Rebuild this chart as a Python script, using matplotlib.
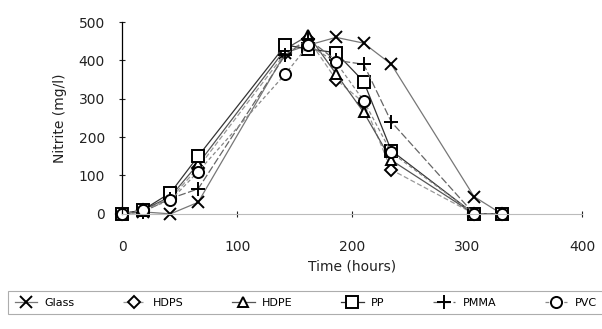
import numpy as np
import matplotlib.pyplot as plt

# sampling times (hours)
time = [0, 18, 42, 66, 142, 162, 186, 210, 234, 306, 330]

# nitrite (mg/l) per substrate
glass = [0, 5, 0, 30, 420, 440, 460, 445, 390, 45, 0]
hdps = [0, 10, 40, 120, 420, 455, 350, 290, 115, 0, 0]
hdpe = [0, 10, 45, 130, 430, 465, 365, 265, 140, 0, 0]
pp = [0, 10, 55, 150, 440, 430, 420, 345, 165, 0, 0]
pmma = [0, 5, 40, 65, 415, 455, 400, 390, 240, 0, 0]
pvc = [0, 10, 35, 110, 365, 440, 395, 295, 160, 0, 0]

series = [
    ('Glass', glass, 'x', '#777777', '-'),
    ('HDPS', hdps, 'D', '#999999', (0, (4, 2))),
    ('HDPE', hdpe, '^', '#555555', '-'),
    ('PP', pp, 's', '#333333', '-'),
    ('PMMA', pmma, '+', '#666666', (0, (6, 2))),
    ('PVC', pvc, 'o', '#888888', (0, (3, 2))),
]

fig = plt.figure(figsize=(6.02, 3.29), dpi=100)
ax = fig.add_axes([0.203, 0.350, 0.764, 0.583])

sizes = {'x': 9, 'D': 6, '^': 7, 's': 8, '+': 10, 'o': 8}
for name, vals, mk, col, ls in series:
    ax.plot(time, vals, color=col, linestyle=ls, linewidth=0.9,
            marker=mk, markersize=sizes[mk], markerfacecolor='white',
            markeredgecolor='black', markeredgewidth=1.4, label=name,
            clip_on=False)

ax.set_xlim(0, 400)
ax.set_ylim(0, 500)
ax.set_xticks([0, 100, 200, 300, 400])
ax.set_yticks([0, 100, 200, 300, 400, 500])
ax.spines['top'].set_visible(False)
ax.spines['right'].set_visible(False)
ax.spines['bottom'].set_color('#bbbbbb')
ax.spines['left'].set_linewidth(0.9)
ax.tick_params(direction='inout', length=5, width=0.8, labelsize=10,
               colors='#222222')
ax.tick_params(axis='x', pad=16)
ax.tick_params(axis='y', pad=10)
ax.set_xlabel('Time (hours)', fontsize=10, color='#222222', labelpad=4)
ax.set_ylabel('Nitrite (mg/l)', fontsize=10, color='#222222', labelpad=8)

leg = fig.legend(loc='upper left', bbox_to_anchor=(8 / 602, 1 - 291 / 329, 596 / 602, 0),
                 mode='expand', ncol=6, fontsize=8, frameon=True, fancybox=False,
                 edgecolor='#999999', handlelength=2.0, handletextpad=0.7,
                 borderaxespad=0.0, borderpad=0.6, columnspacing=1.0)
leg.get_frame().set_linewidth(0.8)

fig.savefig('out.png', dpi=100)
